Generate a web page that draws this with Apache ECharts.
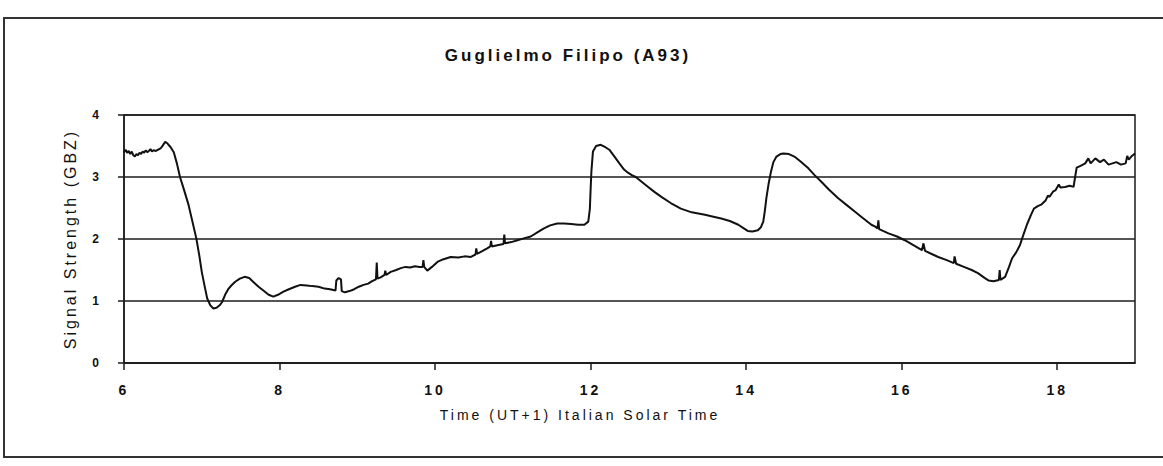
<!DOCTYPE html>
<html>
<head>
<meta charset="utf-8">
<script src="https://cdn.jsdelivr.net/npm/echarts/dist/echarts.min.js"></script>
<style>
html,body{margin:0;padding:0;background:#fff;}
#chart{width:1163px;height:466px;}
#chart svg text{letter-spacing:3px;}
</style>
</head>
<body>
<div id="chart"></div>
<script>
const chartTitle = 'Guglielmo Filipo (A93)';
const xAxisTitle = 'Time (UT+1) Italian Solar Time';
const yAxisTitle = 'Signal Strength (GBZ)';

const times = [
6.00,6.02,6.04,6.06,6.08,6.10,6.12,6.14,6.16,6.18,6.20,6.22,6.24,6.26,6.28,6.30,6.32,6.34,6.36,6.38,
6.41,6.44,6.47,6.50,6.53,6.56,6.60,6.64,6.68,6.72,6.77,6.83,6.88,6.93,6.97,7.00,7.04,7.07,7.11,7.15,
7.19,7.23,7.26,7.30,7.34,7.38,7.43,7.49,7.55,7.61,7.67,7.73,7.80,7.86,7.92,7.98,8.05,8.12,8.20,8.27,
8.35,8.42,8.50,8.58,8.65,8.72,8.73,8.76,8.79,8.80,8.84,8.90,8.96,9.02,9.08,9.14,9.19,9.24,9.25,9.26,
9.30,9.35,9.36,9.37,9.43,9.50,9.56,9.62,9.68,9.74,9.80,9.84,9.85,9.86,9.90,9.96,10.03,10.10,10.20,10.30,
10.38,10.46,10.52,10.53,10.54,10.60,10.67,10.71,10.72,10.73,10.80,10.88,10.89,10.90,10.98,11.06,11.14,11.23,11.32,11.40,
11.48,11.57,11.66,11.75,11.84,11.92,11.97,11.99,12.00,12.01,12.03,12.07,12.13,12.19,12.24,12.30,12.37,12.43,12.48,12.53,
12.58,12.66,12.74,12.82,12.91,13.03,13.16,13.30,13.47,13.58,13.68,13.79,13.90,13.96,14.02,14.08,14.15,14.19,14.22,14.24,
14.26,14.29,14.32,14.35,14.39,14.44,14.48,14.55,14.62,14.70,14.80,14.88,14.97,15.07,15.18,15.29,15.40,15.50,15.61,15.66,
15.69,15.70,15.71,15.83,15.94,16.04,16.15,16.26,16.28,16.30,16.40,16.47,16.58,16.67,16.68,16.70,16.80,16.90,16.98,17.07,
17.12,17.18,17.25,17.26,17.27,17.33,17.38,17.42,17.47,17.52,17.56,17.61,17.66,17.70,17.75,17.80,17.85,17.88,17.90,17.95,
17.98,18.02,18.04,18.10,18.16,18.21,18.23,18.25,18.30,18.36,18.40,18.43,18.49,18.55,18.60,18.66,18.71,18.76,18.82,18.88,
18.90,18.92,18.96,19.00
];

const signal = [
3.40,3.44,3.39,3.42,3.37,3.41,3.35,3.33,3.37,3.35,3.39,3.37,3.41,3.39,3.43,3.40,3.42,3.45,3.41,3.43,
3.42,3.44,3.46,3.51,3.57,3.54,3.48,3.40,3.22,3.00,2.80,2.55,2.28,2.01,1.72,1.47,1.22,1.04,0.93,0.88,
0.89,0.93,0.98,1.10,1.19,1.25,1.31,1.36,1.39,1.37,1.30,1.23,1.16,1.10,1.07,1.10,1.15,1.19,1.23,1.26,
1.25,1.24,1.23,1.20,1.19,1.17,1.33,1.37,1.35,1.16,1.14,1.16,1.19,1.23,1.26,1.28,1.32,1.35,1.62,1.36,
1.38,1.42,1.49,1.42,1.47,1.50,1.53,1.55,1.54,1.56,1.55,1.55,1.66,1.55,1.49,1.55,1.63,1.67,1.71,1.70,
1.72,1.71,1.75,1.85,1.76,1.80,1.85,1.88,1.97,1.88,1.90,1.92,2.07,1.93,1.95,1.98,2.01,2.04,2.11,2.17,
2.22,2.25,2.25,2.24,2.23,2.23,2.28,2.48,2.80,3.09,3.41,3.50,3.52,3.48,3.44,3.34,3.22,3.12,3.07,3.03,
3.00,2.92,2.84,2.76,2.68,2.58,2.49,2.43,2.39,2.36,2.33,2.29,2.23,2.18,2.13,2.12,2.14,2.19,2.28,2.45,
2.66,2.90,3.09,3.24,3.33,3.37,3.38,3.37,3.33,3.25,3.14,3.03,2.92,2.79,2.66,2.55,2.44,2.34,2.23,2.20,
2.17,2.30,2.16,2.09,2.04,1.98,1.90,1.82,1.93,1.81,1.75,1.71,1.66,1.61,1.72,1.60,1.55,1.50,1.45,1.37,
1.33,1.32,1.34,1.50,1.34,1.39,1.55,1.69,1.78,1.90,2.05,2.23,2.38,2.49,2.53,2.56,2.62,2.70,2.68,2.77,
2.79,2.88,2.83,2.84,2.86,2.84,3.00,3.15,3.18,3.22,3.30,3.22,3.30,3.24,3.28,3.20,3.22,3.24,3.20,3.22,
3.34,3.28,3.34,3.38
];

const xMin = 6, xMax = 19, xStep = 2;
const yMin = 0, yMax = 4, yStep = 1;

const ink = '#1c1c1c';
const font = '"Liberation Sans", Arial, sans-serif';

const chart = echarts.init(document.getElementById('chart'), null, {renderer: 'svg'});
chart.setOption({
  animation: false,
  backgroundColor: '#ffffff',
  grid: {
    left: 124, right: 28, top: 115, bottom: 103,
    show: true, borderColor: ink, borderWidth: 1.5,
    containLabel: false, outerBoundsMode: 'none'
  },
  xAxis: {
    type: 'value', min: xMin, max: xMax, interval: xStep,
    axisLine: {show: true, onZero: false, lineStyle: {color: ink, width: 1.5}},
    axisTick: {show: true, inside: false, length: 7, lineStyle: {color: ink, width: 1.5}},
    axisLabel: {show: true, margin: 20, color: '#111', fontSize: 14, fontWeight: 'bold', fontFamily: font, showMaxLabel: false},
    splitLine: {show: false}
  },
  yAxis: {
    type: 'value', min: yMin, max: yMax, interval: yStep,
    name: yAxisTitle, nameLocation: 'middle', nameGap: 46,
    nameTextStyle: {color: '#111', fontSize: 16, fontFamily: font},
    axisLine: {show: true, lineStyle: {color: ink, width: 1.5}},
    axisTick: {show: true, inside: false, length: 6, lineStyle: {color: ink, width: 1.5}},
    axisLabel: {show: true, margin: 22, color: '#111', fontSize: 12, fontWeight: 'bold', fontFamily: font},
    splitLine: {show: true, lineStyle: {color: ink, width: 1.6}}
  },
  graphic: [
    {type: 'rect', shape: {x: 4, y: 18, width: 1175, height: 439}, style: {fill: 'none', stroke: '#333', lineWidth: 2}, silent: true},
    {type: 'text', x: 568, y: 55, style: {text: chartTitle, fill: '#111', font: 'bold 17px ' + font, textAlign: 'center', textVerticalAlign: 'middle'}},
    {type: 'text', x: 580, y: 415, style: {text: xAxisTitle, fill: '#111', font: '14px ' + font, textAlign: 'center', textVerticalAlign: 'middle'}}
  ],
  series: [{
    type: 'line',
    data: times.map((t, i) => [t, signal[i]]),
    showSymbol: false,
    symbol: 'none',
    lineStyle: {color: '#111', width: 2},
    z: 5
  }]
});
</script>
</body>
</html>
